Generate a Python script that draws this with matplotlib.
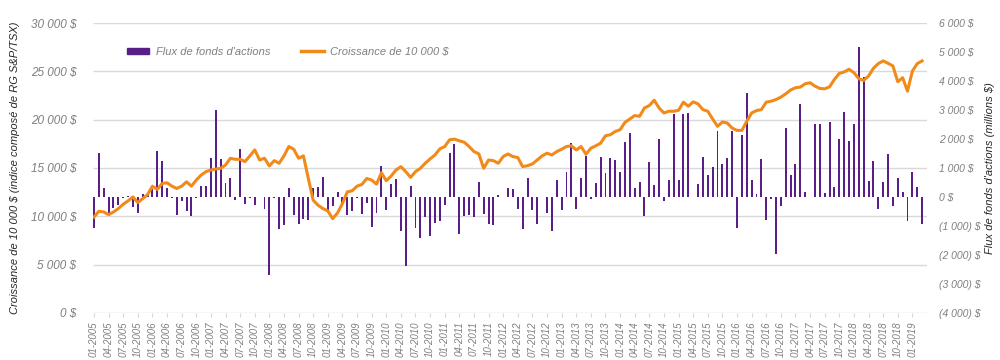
import matplotlib
matplotlib.use("Agg")
import matplotlib.pyplot as plt
import matplotlib.transforms as mtransforms
from matplotlib.patches import Patch
from matplotlib.lines import Line2D
from matplotlib.ticker import FuncFormatter
import numpy as np
import pandas as pd

plt.rcParams['font.family'] = ['Liberation Sans', 'DejaVu Sans']

# mois 01-2005 .. 03-2019
months = pd.date_range('2005-01-01', periods=171, freq='MS').strftime('%m-%Y').tolist()

# flux de fonds d'actions (millions $)
flux = [
    -1070, 1530, 300, -540, -370, -280, -30, 20, -350, -540, 100, 150,
    270, 1590, 1240, 320, -30, -630, -140, -500, -650, -20, 380, 380,
    1330, 2990, 1320, 490, 670, -115, 1640, -230, -20, -280, -10, -420,
    -2690, -20, -1110, -960, 300, -630, -940, -770, -800, 300, 345, 690,
    -460, -310, 180, -200, -630, -500, -20, -600, -200, -1050, -560, 1070,
    -460, 460, 610, -1190, -2380, 380, -1080, -1400, -690, -1350, -890, -830,
    -280, 1530, 1840, -1260, -650, -620, -690, 520, -600, -920, -960, 60,
    10, 320, 290, -425, -1110, 640, -460, -920, 10, -540, -1170, 590,
    -450, 870, 1850, -425, 670, 1410, -60, 470, 1390, 820, 1330, 1280,
    870, 1910, 2220, 300, 520, -650, 1220, 410, 2010, -140, 590, 2870,
    590, 2870, 2910, 10, 440, 1390, 750, 1030, 2280, 1130, 1360, 2280,
    -1060, 2140, 3570, 570, 110, 1320, -800, -80, -1980, -310, 2370, 760,
    1130, 3190, 170, 10, 2500, 2500, 150, 2600, 340, 1990, 2940, 1930,
    2500, 5180, 4140, 550, 1240, -430, 530, 1490, -310, 670, 170, -830,
    860, 340, -940,
]

# croissance de 10 000 $ (indice composé S&P/TSX)
croissance = [
    9930, 10520, 10450, 10170, 10450, 10800, 11250, 11600, 12010, 11420, 11840, 12250,
    13120, 12780, 13400, 13470, 13120, 12880, 13120, 13570, 13120, 13750, 14270, 14620,
    14790, 14890, 14960, 15310, 16000, 15900, 15900, 15660, 16250, 16870, 15830, 16010,
    15210, 15760, 15490, 16250, 17220, 16940, 16010, 16250, 13920, 11670, 11150, 10800,
    10560, 9760, 10350, 11320, 12530, 12640, 13120, 13300, 13920, 13750, 13330, 14510,
    13680, 14170, 14790, 15140, 14620, 14030, 14620, 14970, 15490, 15940, 16350, 16980,
    17220, 17920, 17990, 17810, 17670, 17220, 16700, 16460, 14970, 15830, 15760, 15490,
    16180, 16450, 16180, 16080, 15140, 15240, 15420, 15830, 16250, 16530, 16350, 16700,
    16940, 17220, 17290, 16870, 17220, 16420, 17050, 17290, 17570, 18330, 18440, 18780,
    18960, 19720, 20070, 20420, 20350, 21210, 21460, 22010, 21210, 20690, 20870, 20870,
    20970, 21810, 21390, 21840, 21630, 21040, 20870, 20070, 19310, 19760, 19650, 19130,
    18890, 18890, 19830, 20690, 20940, 21040, 21810, 21910, 22080, 22330, 22670, 23070,
    23300, 23370, 23710, 23820, 23470, 23230, 23190, 23400, 24170, 24790, 24930, 25210,
    24860, 24240, 24060, 24510, 25310, 25800, 26080, 25830, 25560, 23920, 24340, 22950,
    25030, 25800, 26080,
]

left_ticks = [0, 5000, 10000, 15000, 20000, 25000, 30000]
right_ticks = [-4000, -3000, -2000, -1000, 0, 1000, 2000, 3000, 4000, 5000, 6000]

PURPLE = '#5A1E88'
ORANGE = '#F28A1A'
GREY = '#7F7F7F'
GRID = '#D9D9D9'


def fmt_sp(v):
    return '{:,.0f}'.format(abs(v)).replace(',', ' ')


def left_fmt(v, pos):
    return fmt_sp(v) + ' $'


def right_fmt(v, pos):
    if v < 0:
        return '(' + fmt_sp(v) + ') $'
    return fmt_sp(v) + ' $'


x = np.arange(len(months))

fig = plt.figure(figsize=(10, 3.6), dpi=100)
ax = fig.add_axes([0.093, 0.1306, 0.834, 0.8055])
ax2 = ax.twinx()

# barres (axe de droite) derrière la ligne
ax2.bar(x, flux, width=0.4, color=PURPLE, zorder=2)
ax2.set_ylim(-4000, 6000)
ax2.set_yticks(right_ticks)
ax2.yaxis.set_major_formatter(FuncFormatter(right_fmt))

# lignes de grille selon l'axe de gauche, dessinées sous les barres
blend = mtransforms.blended_transform_factory(ax2.transAxes, ax.transData)
ax2.hlines(left_ticks, 0, 1, transform=blend, color=GRID, lw=1.0, zorder=0)

ax.plot(x, croissance, color=ORANGE, lw=2.2, solid_joinstyle='round', zorder=3)
ax.set_ylim(0, 30000)
ax.set_yticks(left_ticks)
ax.yaxis.set_major_formatter(FuncFormatter(left_fmt))
ax.set_xlim(-0.2, 171)
ax.set_xticks(x[::3])
ax.set_xticklabels(months[::3], rotation=90, fontsize=7, color=GREY, style='italic')

ax.set_zorder(ax2.get_zorder() + 1)
ax.patch.set_visible(False)

for a in (ax, ax2):
    for s in ('top', 'left', 'right', 'bottom'):
        a.spines[s].set_visible(False)

ax.tick_params(axis='y', length=0, labelsize=8.5, labelcolor=GREY, pad=12)
ax2.tick_params(axis='y', length=0, labelsize=7.5, labelcolor=GREY, pad=9)
ax.tick_params(axis='x', length=3, color=GRID, pad=3)
for lab in ax.get_yticklabels() + ax2.get_yticklabels():
    lab.set_fontstyle('italic')

ax.set_ylabel("Croissance de 10 000 $ (indice composé de RG S&P/TSX)",
              fontsize=8, style='italic', color='#262626')
ax.yaxis.set_label_coords(-0.087, 0.5)
ax2.set_ylabel("Flux de fonds d'actions (millions $)", rotation=90,
               fontsize=8, style='italic', color='#262626')
ax2.yaxis.set_label_coords(1.07, 0.5)

handles = [Patch(facecolor=PURPLE, edgecolor=PURPLE),
           Line2D([0], [0], color=ORANGE, lw=2.5)]
labels = ["Flux de fonds d'actions", "Croissance de 10 000 $"]
leg = fig.legend(handles, labels, loc='center', bbox_to_anchor=(0.288, 0.856),
                 ncol=2, frameon=False, fontsize=8, handlelength=2.0,
                 handleheight=0.5, columnspacing=2.8, handletextpad=0.6)
for t in leg.get_texts():
    t.set_color(GREY)
    t.set_fontstyle('italic')

fig.savefig('out.png', dpi=100)
